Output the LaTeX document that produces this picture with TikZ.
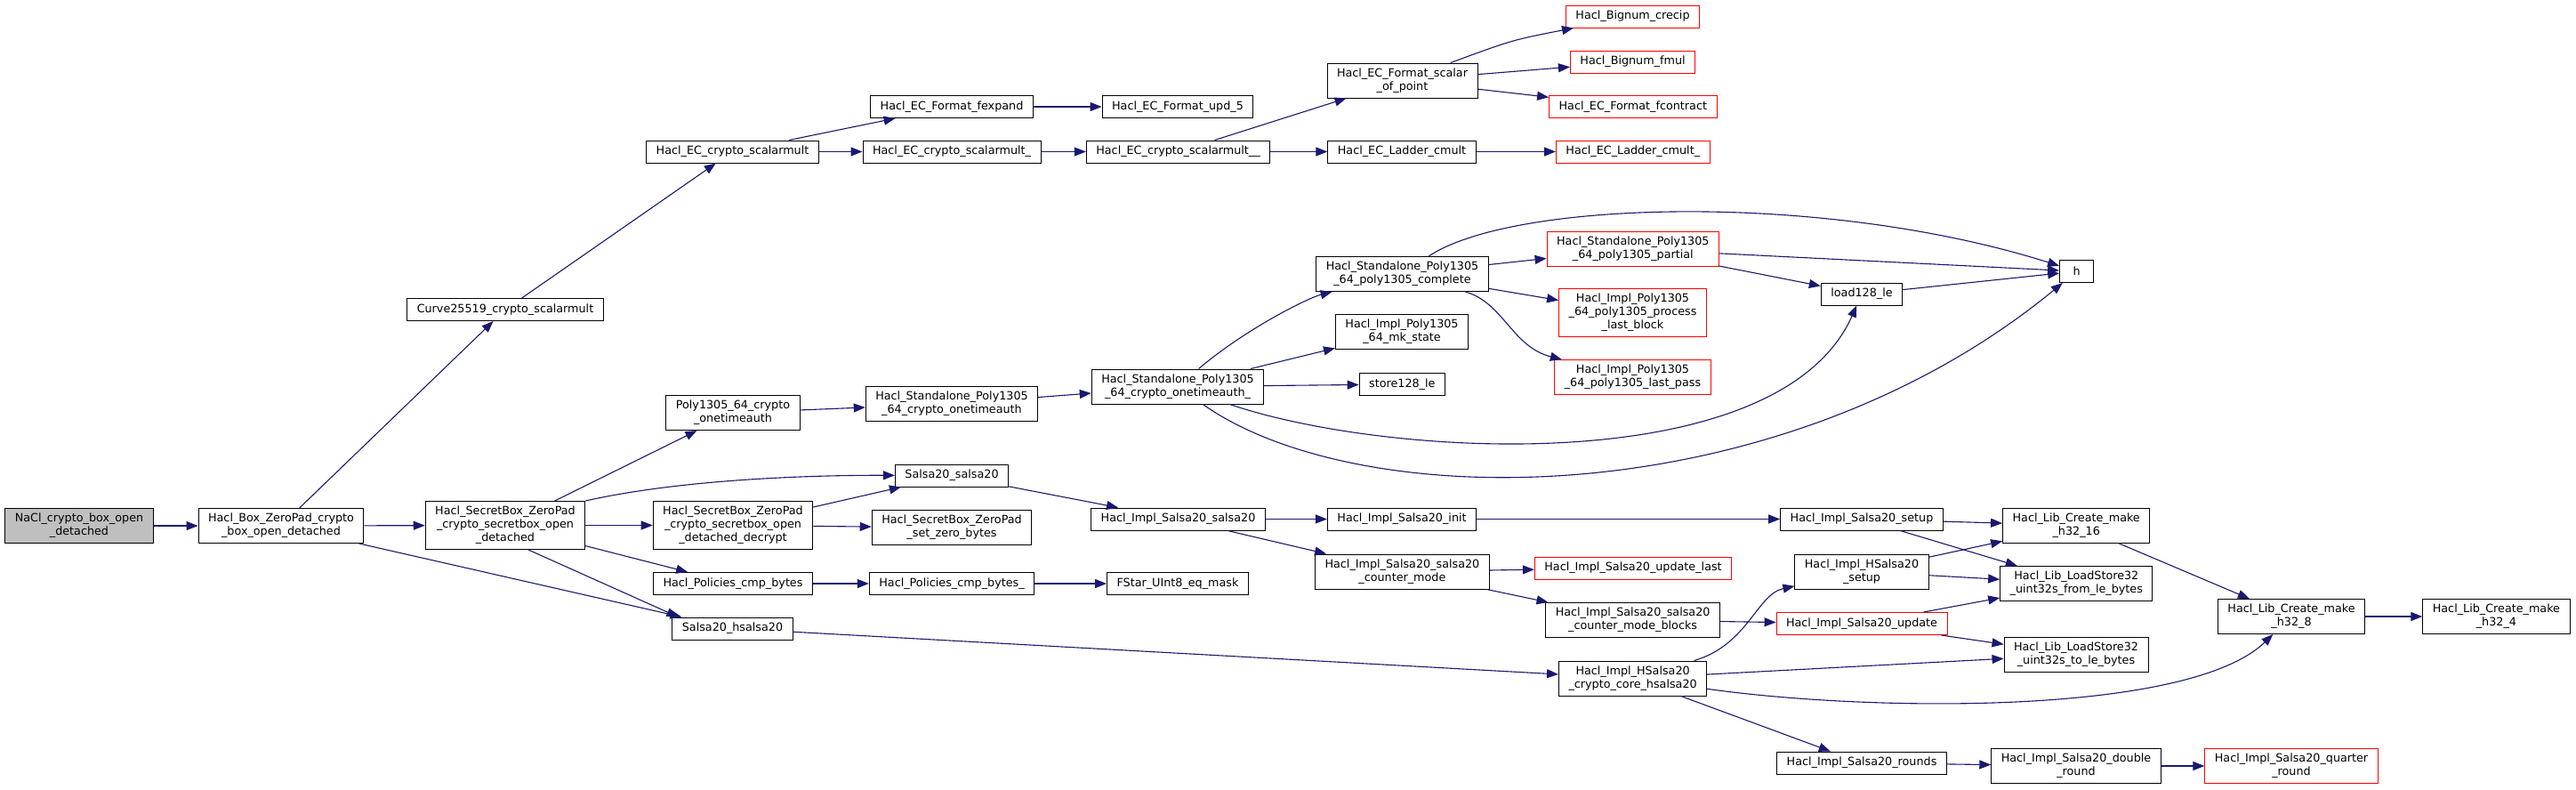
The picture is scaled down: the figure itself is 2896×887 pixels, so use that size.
\documentclass[tikz,border=0pt]{standalone}
\usepackage{fontspec}
\setmainfont{DejaVu Sans}
\usetikzlibrary{arrows.meta}
\definecolor{edgeblue}{HTML}{191970}
\definecolor{missred}{HTML}{FF0000}

\begin{document}
\begin{tikzpicture}[x=1pt,y=1pt]
    \tikzstyle{every node}+=[inner xsep=11pt, inner ysep=0pt, align=center, font=\fontsize{12.75}{15}\selectfont]
    \tikzstyle{fn}=[draw=black, line width=1pt, fill=white, rectangle, minimum height=25pt]
    \tikzstyle{fnred}=[fn, draw=missred]
    \tikzstyle{fnroot}=[fn, fill=black!25]
    \tikzstyle{tworow}=[minimum height=39pt]
    \tikzstyle{threerow}=[minimum height=54pt]
    \tikzstyle{call}=[draw=edgeblue, line width=1.1pt, -{Triangle[length=13pt,width=10pt]}]
    \useasboundingbox[fill=white] (0,0) rectangle (2896,-887);
    \node[fnroot, tworow] (nacl) at (89,-591) {NaCl\_crypto\_box\_open\\\_detached};
    \node[fn, tworow] (boxopen) at (316,-591) {Hacl\_Box\_ZeroPad\_crypto\\\_box\_open\_detached};
    \node[fn] (curve) at (568,-348) {Curve25519\_crypto\_scalarmult};
    \node[fn, threerow] (sbopen) at (568,-590.5) {Hacl\_SecretBox\_ZeroPad\\\_crypto\_secretbox\_open\\\_detached};
    \node[fn] (ecmult) at (823.5,-170.5) {Hacl\_EC\_crypto\_scalarmult};
    \node[fn, tworow] (polyauth) at (824,-464) {Poly1305\_64\_crypto\\\_onetimeauth};
    \node[fn, threerow] (decrypt) at (824,-590.5) {Hacl\_SecretBox\_ZeroPad\\\_crypto\_secretbox\_open\\\_detached\_decrypt};
    \node[fn] (cmpbytes) at (824,-656) {Hacl\_Policies\_cmp\_bytes};
    \node[fn] (hsalsa) at (823.5,-706.5) {Salsa20\_hsalsa20};
    \node[fn] (fexpand) at (1070,-120) {Hacl\_EC\_Format\_fexpand};
    \node[fn] (ecmultA) at (1070,-170.5) {Hacl\_EC\_crypto\_scalarmult\_};
    \node[fn, tworow] (sauth) at (1070,-454) {Hacl\_Standalone\_Poly1305\\\_64\_crypto\_onetimeauth};
    \node[fn] (salsa) at (1070,-534.5) {Salsa20\_salsa20};
    \node[fn, tworow] (setzero) at (1070,-593) {Hacl\_SecretBox\_ZeroPad\\\_set\_zero\_bytes};
    \node[fn] (cmpbytesA) at (1070,-656) {Hacl\_Policies\_cmp\_bytes\_};
    \node[fn] (upd) at (1324,-120) {Hacl\_EC\_Format\_upd\_5};
    \node[fn] (ecmultB) at (1324.5,-170.5) {Hacl\_EC\_crypto\_scalarmult\_\_};
    \node[fn, tworow] (sauthA) at (1324,-434.5) {Hacl\_Standalone\_Poly1305\\\_64\_crypto\_onetimeauth\_};
    \node[fn] (isalsa) at (1324.5,-583.5) {Hacl\_Impl\_Salsa20\_salsa20};
    \node[fn] (eqmask) at (1324,-656) {FStar\_UInt8\_eq\_mask};
    \node[fn, tworow] (scalarpt) at (1576.5,-90.5) {Hacl\_EC\_Format\_scalar\\\_of\_point};
    \node[fn] (ladder) at (1576,-170.5) {Hacl\_EC\_Ladder\_cmult};
    \node[fn, tworow] (complete) at (1576.5,-308) {Hacl\_Standalone\_Poly1305\\\_64\_poly1305\_complete};
    \node[fn, tworow] (mkstate) at (1576,-373) {Hacl\_Impl\_Poly1305\\\_64\_mk\_state};
    \node[fn] (store) at (1576.3,-432) {store128\_le};
    \node[fn] (init) at (1576,-583.5) {Hacl\_Impl\_Salsa20\_init};
    \node[fn, tworow] (ctrmode) at (1576.4,-642.5) {Hacl\_Impl\_Salsa20\_salsa20\\\_counter\_mode};
    \node[fnred] (crecip) at (1835.5,-18.5) {Hacl\_Bignum\_crecip};
    \node[fnred] (fmul) at (1835.5,-69.5) {Hacl\_Bignum\_fmul};
    \node[fnred] (fcontract) at (1835.8,-120) {Hacl\_EC\_Format\_fcontract};
    \node[fnred] (ladderA) at (1835.8,-170.5) {Hacl\_EC\_Ladder\_cmult\_};
    \node[fnred, tworow] (partial) at (1835.8,-280) {Hacl\_Standalone\_Poly1305\\\_64\_poly1305\_partial};
    \node[fnred, threerow] (lastblock) at (1835.5,-351.5) {Hacl\_Impl\_Poly1305\\\_64\_poly1305\_process\\\_last\_block};
    \node[fnred, tworow] (lastpass) at (1835.5,-424) {Hacl\_Impl\_Poly1305\\\_64\_poly1305\_last\_pass};
    \node[fnred] (updlast) at (1836,-638.5) {Hacl\_Impl\_Salsa20\_update\_last};
    \node[fn, tworow] (blocks) at (1835.6,-697) {Hacl\_Impl\_Salsa20\_salsa20\\\_counter\_mode\_blocks};
    \node[fn, tworow] (core) at (1835.6,-762.5) {Hacl\_Impl\_HSalsa20\\\_crypto\_core\_hsalsa20};
    \node[fn] (load) at (2093,-330.5) {load128\_le};
    \node[fn] (setup) at (2093,-583.5) {Hacl\_Impl\_Salsa20\_setup};
    \node[fn, tworow] (hsetup) at (2093,-642.5) {Hacl\_Impl\_HSalsa20\\\_setup};
    \node[fnred] (update) at (2093,-701) {Hacl\_Impl\_Salsa20\_update};
    \node[fn] (rounds) at (2093,-857.5) {Hacl\_Impl\_Salsa20\_rounds};
    \node[fn, minimum width=38pt] (h) at (2334.6,-305) {h};
    \node[fn, tworow] (hthsix) at (2334.2,-590.5) {Hacl\_Lib\_Create\_make\\\_h32\_16};
    \node[fn, tworow] (fromle) at (2334.3,-656) {Hacl\_Lib\_LoadStore32\\\_uint32s\_from\_le\_bytes};
    \node[fn, tworow] (tole) at (2334,-736) {Hacl\_Lib\_LoadStore32\\\_uint32s\_to\_le\_bytes};
    \node[fn, tworow] (dround) at (2334,-861) {Hacl\_Impl\_Salsa20\_double\\\_round};
    \node[fn, tworow] (height) at (2576,-693) {Hacl\_Lib\_Create\_make\\\_h32\_8};
    \node[fnred, tworow] (qround) at (2576,-861) {Hacl\_Impl\_Salsa20\_quarter\\\_round};
    \node[fn, tworow] (hfour) at (2806.4,-693) {Hacl\_Lib\_Create\_make\\\_h32\_4};
    \draw[call] (nacl) -- (boxopen);
    \draw[call] (boxopen) -- (curve);
    \draw[call] (boxopen) -- (sbopen);
    \draw[call] (boxopen) -- (hsalsa);
    \draw[call] (curve) -- (ecmult);
    \draw[call] (ecmult) -- (fexpand);
    \draw[call] (ecmult) -- (ecmultA);
    \draw[call] (fexpand) -- (upd);
    \draw[call] (ecmultA) -- (ecmultB);
    \draw[call] (ecmultB) -- (scalarpt);
    \draw[call] (ecmultB) -- (ladder);
    \draw[call] (scalarpt) .. controls (1700,-45) .. (crecip);
    \draw[call] (scalarpt) -- (fmul);
    \draw[call] (scalarpt) -- (fcontract);
    \draw[call] (ladder) -- (ladderA);
    \draw[call] (sbopen) -- (polyauth);
    \draw[call] (sbopen.north east) .. controls (760,-540) and (900,-534) .. (salsa);
    \draw[call] (sbopen) -- (decrypt);
    \draw[call] (sbopen) -- (cmpbytes);
    \draw[call] ([xshift=26pt]sbopen.south) -- ([xshift=-61pt]hsalsa.north);
    \draw[call] (polyauth) -- (sauth);
    \draw[call] (sauth) -- (sauthA);
    \draw[call] (sauthA) .. controls (1400,-370) and (1470,-335) .. (complete);
    \draw[call] (sauthA) -- (mkstate);
    \draw[call] (sauthA) -- (store);
    \draw[call] (sauthA) .. controls (1560,-515) and (2000,-540) .. (load);
    \draw[call] (sauthA) .. controls (1530,-580) and (2000,-580) .. (h);
    \draw[call] (complete) .. controls (1700,-225) and (2050,-215) .. (h);
    \draw[call] (complete) -- (partial);
    \draw[call] (complete) -- (lastblock);
    \draw[call] (complete) .. controls (1690,-340) and (1700,-390) .. (lastpass);
    \draw[call] (partial) -- (h);
    \draw[call] (partial) -- (load);
    \draw[call] (load) -- (h);
    \draw[call] (decrypt) -- (salsa);
    \draw[call] (decrypt) -- (setzero);
    \draw[call] (salsa) -- (isalsa);
    \draw[call] (isalsa) -- (init);
    \draw[call] (isalsa) -- (ctrmode);
    \draw[call] (init) -- (setup);
    \draw[call] (ctrmode) -- (updlast);
    \draw[call] (ctrmode) -- (blocks);
    \draw[call] (blocks) -- (update);
    \draw[call] (cmpbytes) -- (cmpbytesA);
    \draw[call] (cmpbytesA) -- (eqmask);
    \draw[call] (hsalsa) -- (core);
    \draw[call] (core) .. controls (1965,-725) and (1975,-668) .. (hsetup);
    \draw[call] (core) -- (tole);
    \draw[call] (core) .. controls (2100,-800) and (2460,-805) .. (height);
    \draw[call] (core) -- (rounds);
    \draw[call] (setup) -- (hthsix);
    \draw[call] (setup) -- (fromle);
    \draw[call] (hsetup) -- (hthsix);
    \draw[call] (hsetup) -- (fromle);
    \draw[call] (update) -- (fromle);
    \draw[call] (update) -- (tole);
    \draw[call] (hthsix) -- (height);
    \draw[call] (height) -- (hfour);
    \draw[call] (rounds) -- (dround);
    \draw[call] (dround) -- (qround);
\end{tikzpicture}
\end{document}
